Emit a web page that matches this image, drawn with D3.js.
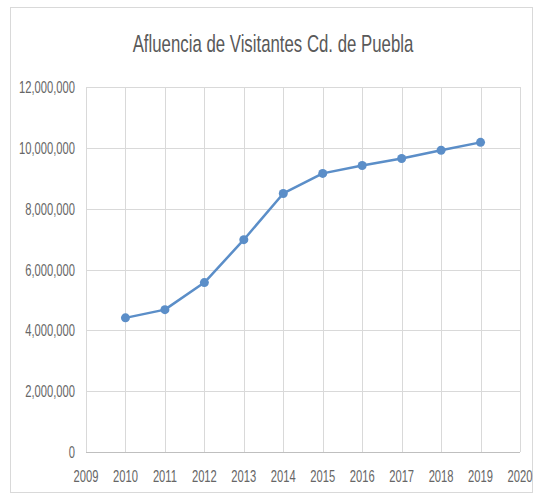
<!DOCTYPE html>
<html><head><meta charset="utf-8">
<script src="https://cdn.jsdelivr.net/npm/d3@7"></script>
<style>body{margin:0;background:#fff}svg{display:block}</style>
</head><body>
<script>
const years = [2010,2011,2012,2013,2014,2015,2016,2017,2018,2019];
const visitors = [4410000,4680000,5570000,6980000,8500000,9160000,9420000,9650000,9920000,10180000];
const xTicks = [2009,2010,2011,2012,2013,2014,2015,2016,2017,2018,2019,2020];
const yTicks = [0,2000000,4000000,6000000,8000000,10000000,12000000];
const title = "Afluencia de Visitantes Cd. de Puebla";

const W=535,H=495;
const svg=d3.select("body").append("svg").attr("width",W).attr("height",H);
svg.append("rect").attr("x",10.5).attr("y",7.5).attr("width",522).attr("height",485)
  .attr("fill","#fff").attr("stroke","#d9d9d9");
const font="'Liberation Sans',Arial,sans-serif";
const x=d3.scaleLinear().domain([2009,2020]).range([86,520]);
const y=d3.scaleLinear().domain([0,12000000]).range([452,87]);
const sq=0.7;

svg.append("text").attr("transform","translate(273,52) scale(0.7,1)").attr("text-anchor","middle")
  .attr("font-family",font).attr("font-size",24).attr("fill","#595959").text(title);

const g=svg.append("g");
g.selectAll(".hg").data(yTicks).join("line").attr("x1",x(2009)).attr("x2",x(2020))
  .attr("y1",d=>Math.round(y(d))+0.5).attr("y2",d=>Math.round(y(d))+0.5)
  .attr("stroke",d=>d===0?"#bfbfbf":"#d9d9d9").attr("stroke-width",1);
g.selectAll(".vg").data(xTicks).join("line").attr("y1",y(12000000)).attr("y2",y(0))
  .attr("x1",d=>Math.round(x(d))+0.5).attr("x2",d=>Math.round(x(d))+0.5)
  .attr("stroke","#d9d9d9").attr("stroke-width",1);

const fmt=d3.format(",");
g.selectAll(".yl").data(yTicks).join("text")
  .attr("transform",d=>`translate(75,${y(d)+6}) scale(${sq},1)`)
  .attr("text-anchor","end").attr("font-family",font).attr("font-size",16)
  .attr("fill","#666").text(d=>fmt(d));
g.selectAll(".xl").data(xTicks).join("text")
  .attr("transform",d=>`translate(${x(d)},482) scale(${sq},1)`)
  .attr("text-anchor","middle").attr("font-family",font).attr("font-size",16)
  .attr("fill","#666").text(d=>d);

const line=d3.line().x((d,i)=>x(years[i])).y(d=>y(d));
svg.append("path").datum(visitors).attr("d",line).attr("fill","none")
  .attr("stroke","#5b8ec8").attr("stroke-width",2.5).attr("stroke-linejoin","round");
svg.selectAll(".pt").data(visitors).join("circle").attr("cx",(d,i)=>x(years[i])).attr("cy",d=>y(d))
  .attr("r",4.5).attr("fill","#5b8ec8");
</script>
</body></html>
